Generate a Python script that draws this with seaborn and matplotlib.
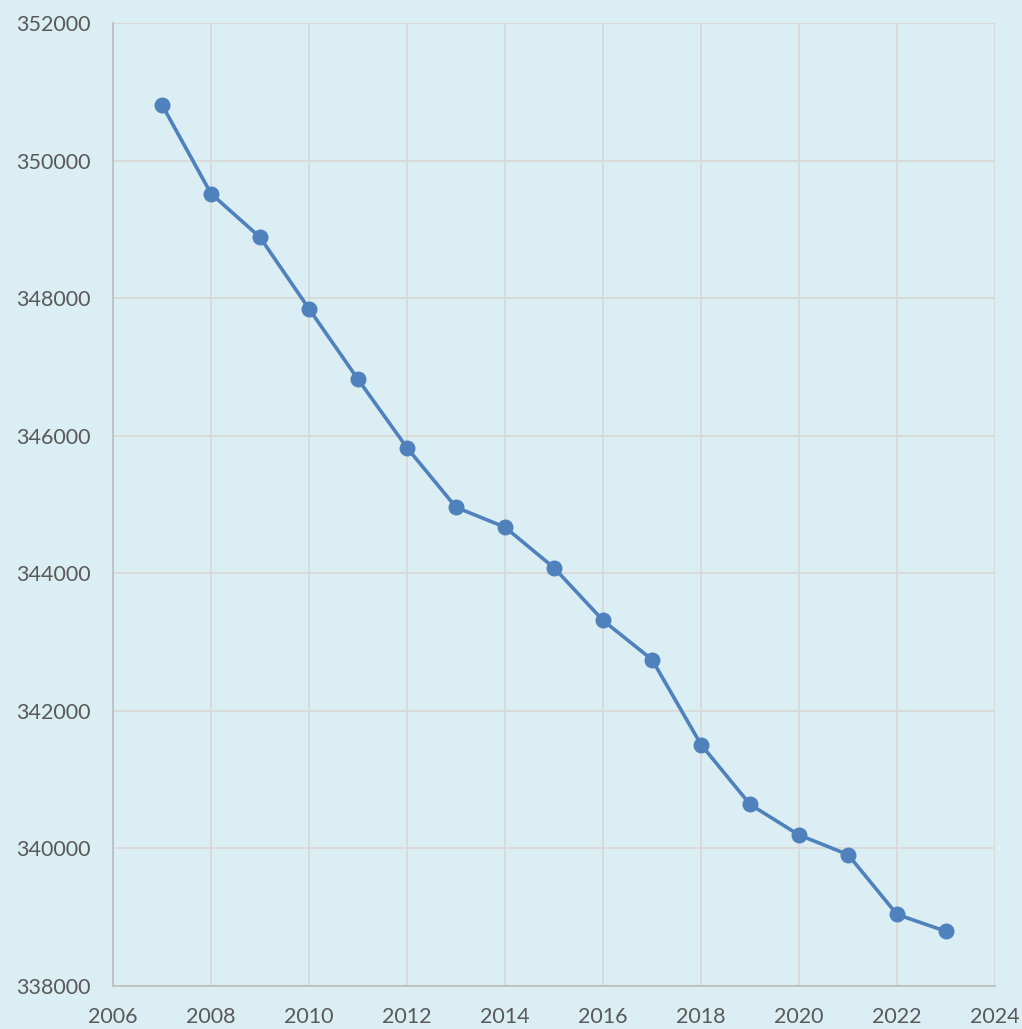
import matplotlib
matplotlib.use("Agg")
import matplotlib.pyplot as plt
import seaborn as sns
import pandas as pd

# -- Données
annees = [2007, 2008, 2009, 2010, 2011, 2012, 2013, 2014, 2015,
          2016, 2017, 2018, 2019, 2020, 2021, 2022, 2023]
population = [350810, 349520, 348885, 347845, 346820, 345825, 344960, 344670, 344080,
              343315, 342745, 341510, 340640, 340195, 339910, 339040, 338795]
x_ticks = list(range(2006, 2025, 2))
y_ticks = list(range(338000, 352001, 2000))

df = pd.DataFrame({"annee": annees, "population": population})

bg = "#DAEEF3"
sns.set_theme(style="white")
plt.rcParams["font.family"] = ["Lato", "DejaVu Sans"]

fig = plt.figure(figsize=(10.22, 10.29), dpi=100, facecolor=bg)
ax = fig.add_axes([0.1106, 0.0418, 0.863, 0.9358])
ax.set_facecolor(bg)

sns.lineplot(data=df, x="annee", y="population", ax=ax, color="#4F81BD",
             linewidth=2.6, marker="o", markersize=11.5, markeredgewidth=0, zorder=3)

ax.set_xlim(2006, 2024)
ax.set_ylim(338000, 352000)
ax.set_xticks(x_ticks)
ax.set_yticks(y_ticks)
ax.grid(True, color="#D9D9D9", linewidth=1.3)
ax.set_xlabel("")
ax.set_ylabel("")
ax.tick_params(axis="both", colors="#595959", labelsize=15.5, length=0)
ax.tick_params(axis="x", pad=15)
ax.tick_params(axis="y", pad=16)

for side in ["top", "right"]:
    ax.spines[side].set_visible(False)
for side in ["left", "bottom"]:
    ax.spines[side].set_color("#BFBFBF")
    ax.spines[side].set_linewidth(1.3)

fig.savefig("out.png", dpi=100, facecolor=bg)
